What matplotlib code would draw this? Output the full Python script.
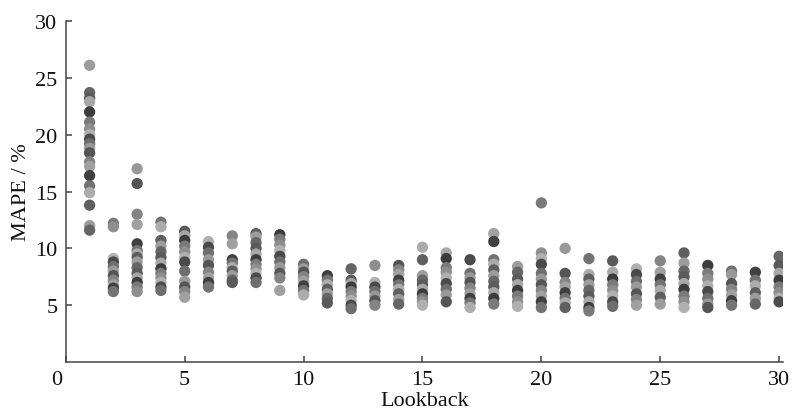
import matplotlib
matplotlib.use("Agg")
import matplotlib.pyplot as plt
import matplotlib.transforms as mtransforms

plt.rcParams['font.family'] = ['Liberation Serif', 'DejaVu Serif']

# MAPE values (%) read per lookback
lb01 = [26.1, 23.7, 23.2, 22.9, 22.0, 21.1, 20.5, 20.0, 19.6, 19.2, 18.8, 18.4, 17.6, 17.2, 16.4, 15.5, 14.9, 13.8, 12.0, 11.6]
lb02 = [12.2, 11.9, 9.1, 8.8, 8.4, 8.0, 7.6, 7.2, 6.8, 6.5, 6.2]
lb03 = [17.0, 15.7, 13.0, 12.1, 10.4, 9.8, 9.5, 9.2, 8.8, 8.3, 7.8, 7.4, 7.0, 6.6, 6.2]
lb04 = [12.3, 11.9, 10.7, 10.2, 9.7, 9.2, 8.7, 8.2, 7.8, 7.4, 7.0, 6.6, 6.3]
lb05 = [11.5, 11.1, 10.7, 10.2, 9.7, 9.2, 8.8, 8.0, 7.1, 6.6, 6.2, 5.7]
lb06 = [10.6, 10.1, 9.6, 9.0, 8.5, 7.9, 7.4, 7.0, 6.6]
lb07 = [11.1, 10.4, 9.0, 8.7, 8.3, 8.0, 7.6, 7.2, 7.0]
lb08 = [11.3, 11.0, 10.5, 10.0, 9.5, 9.0, 8.6, 8.2, 7.8, 7.4, 7.0]
lb09 = [11.2, 10.8, 10.3, 9.8, 9.3, 8.8, 8.3, 7.8, 7.4, 6.3]
lb10 = [8.6, 8.2, 7.9, 7.5, 7.1, 6.7, 6.3, 5.9]
lb11 = [7.6, 7.2, 6.8, 6.4, 6.0, 5.6, 5.2]
lb12 = [8.2, 7.2, 6.9, 6.6, 6.2, 5.8, 5.4, 5.0, 4.7]
lb13 = [8.5, 7.0, 6.6, 6.2, 5.8, 5.4, 5.0]
lb14 = [8.5, 8.1, 7.7, 7.2, 6.8, 6.4, 6.0, 5.5, 5.1]
lb15 = [10.1, 9.0, 7.6, 7.2, 6.8, 6.4, 6.0, 5.6, 5.3, 5.0]
lb16 = [9.6, 9.1, 8.3, 7.9, 7.4, 6.9, 6.4, 5.9, 5.3]
lb17 = [9.0, 7.8, 7.4, 7.0, 6.5, 6.0, 5.6, 5.2, 4.8]
lb18 = [11.3, 10.6, 9.0, 8.6, 8.1, 7.6, 7.1, 6.6, 6.1, 5.6, 5.1]
lb19 = [8.4, 7.9, 7.3, 6.8, 6.3, 5.8, 5.3, 4.9]
lb20 = [14.0, 9.6, 9.1, 8.6, 7.8, 7.3, 6.8, 6.3, 5.8, 5.3, 4.8]
lb21 = [10.0, 7.8, 7.0, 6.6, 6.1, 5.6, 5.2, 4.8]
lb22 = [9.1, 7.7, 7.3, 6.8, 6.3, 5.8, 5.3, 4.8, 4.5]
lb23 = [8.9, 7.9, 7.3, 6.8, 6.3, 5.8, 5.3, 4.9]
lb24 = [8.2, 7.7, 7.1, 6.6, 6.0, 5.5, 5.0]
lb25 = [8.9, 7.9, 7.3, 6.8, 6.3, 5.7, 5.1]
lb26 = [9.6, 8.7, 8.0, 7.5, 6.9, 6.4, 5.8, 5.3, 4.8]
lb27 = [8.5, 7.8, 7.3, 6.7, 6.2, 5.6, 5.1, 4.8]
lb28 = [8.0, 7.7, 6.9, 6.4, 5.9, 5.4, 5.0]
lb29 = [7.9, 7.2, 6.7, 6.1, 5.6, 5.1]
lb30 = [9.3, 8.5, 7.8, 7.2, 6.6, 6.1, 5.6, 5.3]

lookbacks = list(range(1, 31))
mape = [lb01, lb02, lb03, lb04, lb05, lb06, lb07, lb08, lb09, lb10,
        lb11, lb12, lb13, lb14, lb15, lb16, lb17, lb18, lb19, lb20,
        lb21, lb22, lb23, lb24, lb25, lb26, lb27, lb28, lb29, lb30]

shades = ['#9c9c9c', '#666666', '#5a5a5a', '#a8a8a8', '#3c3c3c', '#7a7a7a',
          '#8e8e8e', '#b0b0b0', '#4a4a4a', '#6e6e6e', '#999999', '#555555',
          '#848484', '#a0a0a0', '#404040', '#737373', '#acacac', '#5f5f5f']

x_ticks = [0, 5, 10, 15, 20, 25, 30]
y_ticks = [5, 10, 15, 20, 25, 30]

fig = plt.figure(figsize=(7.93, 4.14), dpi=100)
ax = fig.add_axes([0.083, 0.123, 0.904, 0.824])

for i, (lb, vals) in enumerate(zip(lookbacks, mape)):
    cols = [shades[(i * 5 + j) % len(shades)] for j in range(len(vals))]
    ax.scatter([lb] * len(vals), vals, s=66, c=cols, edgecolors='none', zorder=3)

ax.set_xlim(0, 30.15)
ax.set_ylim(0, 30)
ax.set_xticks(x_ticks)
ax.set_yticks(y_ticks)
ax.set_xticklabels([str(t) for t in x_ticks])
ax.set_yticklabels([str(t) for t in y_ticks])

for s in ['top', 'right']:
    ax.spines[s].set_visible(False)
for s in ['left', 'bottom']:
    ax.spines[s].set_color('#444444')
    ax.spines[s].set_linewidth(1.1)

ax.tick_params(direction='in', length=4, width=1.1, color='#444444',
               labelsize=16, labelcolor='#111111', pad=6)

# shift origin label "0" slightly left
lbl0 = ax.get_xticklabels()[0]
lbl0.set_transform(lbl0.get_transform() + mtransforms.ScaledTranslation(-9 / 100, 0, fig.dpi_scale_trans))

ax.set_xlabel('Lookback', fontsize=16, color='#111111', labelpad=1)
ax.set_ylabel('MAPE / %', fontsize=16, color='#111111', labelpad=3)

fig.savefig('out.png', dpi=100, facecolor='white')
